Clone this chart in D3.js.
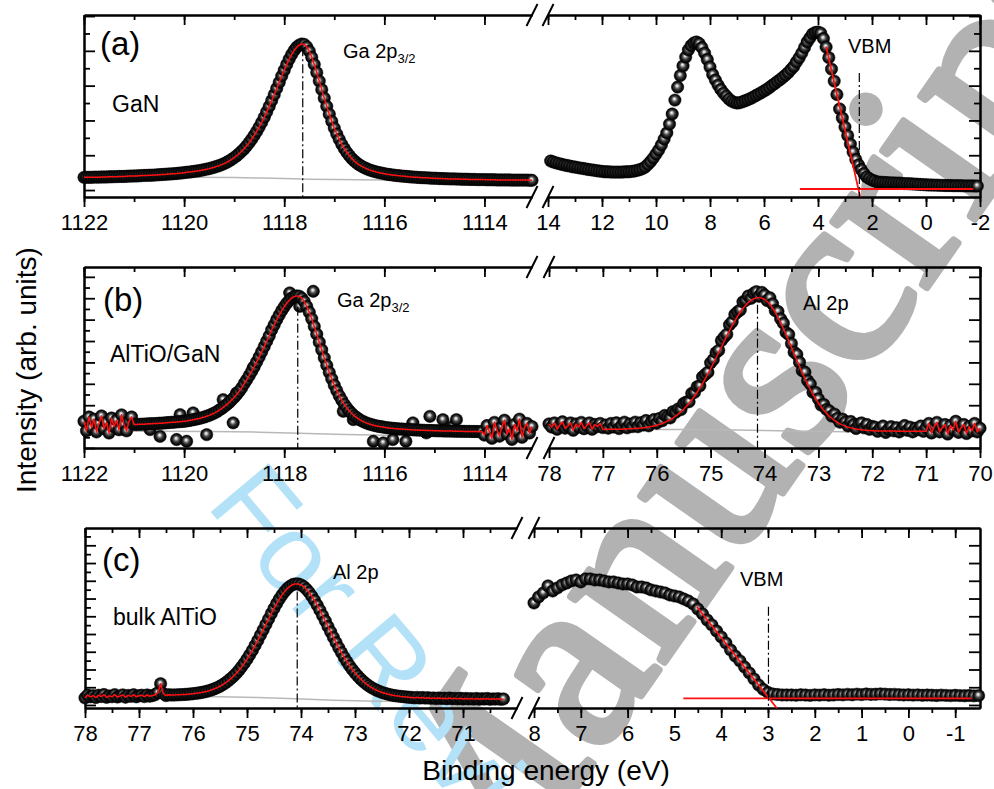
<!DOCTYPE html>
<html>
<head>
<meta charset="utf-8">
<script src="https://cdn.jsdelivr.net/npm/d3@7/dist/d3.min.js"></script>
<style>
  body { margin: 0; background: #fff; }
</style>
</head>
<body>
<div id="chart"></div>
<script>
const FONT = '"Liberation Sans", Arial, Helvetica, sans-serif';

// ---------- row (a): GaN ----------
// Ga 2p3/2, binding energy 1122 -> 1113.05 eV, step 0.05
const gaA_start = 1122, gaA_step = 0.05;
const gaA = [
  0.73,0.73,0.73,0.73,0.74,0.74,0.74,0.75,0.75,0.75,
  0.76,0.76,0.77,0.77,0.78,0.78,0.78,0.79,0.80,0.80,
  0.81,0.81,0.82,0.83,0.84,0.84,0.85,0.85,0.86,0.87,
  0.88,0.89,0.90,0.91,0.92,0.93,0.94,0.95,0.97,0.98,
  1.00,1.02,1.03,1.05,1.07,1.09,1.11,1.14,1.17,1.20,
  1.23,1.27,1.31,1.36,1.40,1.46,1.52,1.59,1.67,1.76,
  1.86,1.97,2.09,2.23,2.37,2.54,2.72,2.92,3.14,3.37,
  3.62,3.89,4.18,4.49,4.81,5.14,5.48,5.84,6.19,6.55,
  6.89,7.22,7.53,7.80,8.03,8.21,8.33,8.39,8.37,8.23,
  7.98,7.63,7.22,6.75,6.26,5.77,5.28,4.81,4.36,3.95,
  3.56,3.22,2.91,2.63,2.38,2.17,1.98,1.81,1.67,1.55,
  1.45,1.36,1.29,1.22,1.16,1.11,1.07,1.03,1.00,0.97,
  0.94,0.91,0.89,0.87,0.85,0.83,0.82,0.80,0.79,0.78,
  0.76,0.75,0.74,0.73,0.72,0.71,0.71,0.70,0.69,0.68,
  0.68,0.67,0.66,0.66,0.65,0.65,0.64,0.64,0.64,0.63,
  0.63,0.62,0.62,0.62,0.61,0.61,0.61,0.60,0.60,0.60,
  0.60,0.59,0.59,0.59,0.59,0.58,0.58,0.58,0.58,0.58,
  0.58,0.57,0.57,0.57,0.57,0.57,0.57,0.57,0.56,0.56
];
const gaA_bg = [[1122,0.75],[1120,0.74],[1119,0.72],[1118.5,0.69],[1118,0.66],[1117.5,0.62],[1117,0.60],[1116,0.58],[1113.05,0.57]];
const gaA_mark = [1117.63, 8.2];

// valence band, 13.9 -> -1.9 eV, step 0.1
const vbA_start = 13.9, vbA_step = 0.1;
const vbA = [
  1.67,1.61,1.56,1.52,1.48,1.44,1.41,1.38,1.34,1.32,
  1.29,1.26,1.24,1.21,1.18,1.16,1.14,1.11,1.09,1.07,
  1.05,1.05,1.04,1.03,1.03,1.03,1.03,1.04,1.05,1.05,
  1.07,1.09,1.13,1.17,1.23,1.32,1.47,1.64,1.84,2.07,
  2.30,2.59,2.93,3.28,3.79,4.37,5.17,5.92,6.58,7.13,
  7.64,8.05,8.30,8.45,8.51,8.42,8.19,7.87,7.50,7.07,
  6.64,6.32,6.03,5.78,5.57,5.40,5.23,5.11,5.04,5.00,
  5.02,5.07,5.13,5.19,5.26,5.34,5.43,5.51,5.60,5.69,
  5.78,5.89,6.01,6.12,6.24,6.35,6.48,6.61,6.75,6.93,
  7.10,7.36,7.59,7.87,8.19,8.51,8.74,8.97,9.05,9.08,
  9.02,8.71,8.22,7.61,6.95,6.26,5.49,4.66,4.14,3.62,
  3.13,2.64,2.18,1.75,1.44,1.18,0.95,0.75,0.66,0.57,
  0.52,0.46,0.45,0.44,0.43,0.42,0.41,0.41,0.40,0.40,
  0.39,0.37,0.37,0.36,0.35,0.34,0.33,0.32,0.31,0.30,
  0.29,0.29,0.28,0.28,0.27,0.27,0.26,0.26,0.26,0.25,
  0.25,0.25,0.25,0.24,0.24,0.24,0.24,0.23,0.23
];
const vbA_edge = [[3.70, 8.24], [2.44, -0.38]];
const vbA_base = [[4.67, 0.06], [-1.75, 0.06]];
const vbA_mark = [2.47, 6.72];

// ---------- row (b): AlTiO/GaN ----------
const gaB_start = 1122, gaB_step = 0.05;
const gaB = [
  2.5,1.6,2.9,1.9,2.7,1.5,2.3,3.0,1.8,2.4,
  1.4,2.8,2.0,2.6,1.7,3.1,2.2,1.6,2.5,2.9,
  2.20,2.20,2.21,2.22,2.23,2.25,2.26,2.27,2.28,2.29,
  2.31,2.32,2.34,2.36,2.38,2.40,2.41,2.44,2.46,2.47,
  2.50,2.53,2.57,2.61,2.66,2.71,2.76,2.82,2.89,2.97,
  3.05,3.15,3.26,3.38,3.54,3.69,3.86,4.05,4.25,4.49,
  4.73,5.00,5.29,5.61,6.01,6.37,6.76,7.17,7.60,8.05,
  8.51,8.99,9.48,9.98,10.47,11.05,11.52,11.99,12.43,12.84,
  13.20,13.53,13.79,14.02,14.15,14.22,14.19,14.01,13.69,13.24,
  12.69,12.07,11.36,10.64,9.89,9.17,8.42,7.73,7.07,6.46,
  5.87,5.36,4.88,4.47,4.08,3.76,3.46,3.22,3.00,2.83,
  2.66,2.54,2.42,2.33,2.24,2.18,2.11,2.06,2.01,1.98,
  1.93,1.90,1.87,1.85,1.82,1.80,1.78,1.77,1.75,1.74,
  1.72,1.71,1.69,1.68,1.67,1.66,1.65,1.64,1.63,1.63,
  1.62,1.61,1.61,1.60,1.59,1.59,1.58,1.58,1.57,1.57,
  1.56,1.56,1.55,1.55,1.55,1.54,1.54,1.54,1.53,1.53,
  1.2,2.1,1.5,0.9,2.4,1.7,1.1,2.0,2.6,1.3,
  1.8,0.8,2.2,1.6,2.7,1.0,1.9,2.3,1.4,2.0
];
const gaB_scatter = [
  [1120.08,3.12],[1119.82,3.28],[1120.68,1.72],[1120.15,0.79],[1119.95,0.63],[1119.55,1.25],
  [1119.22,4.52],[1119.02,2.35],[1118.95,5.15],[1118.62,7.49],[1117.42,14.65],[1117.89,14.5],
  [1117.69,13.24],[1116.82,3.43],[1116.62,2.65],[1116.22,0.63],[1116.02,0.48],[1115.83,0.79],
  [1115.43,2.35],[1115.09,2.96],[1114.83,2.65],[1114.63,2.03],[1114.56,2.65],[1120.48,1.09],
  [1115.16,1.41],[1115.57,0.63]
];
const gaB_bg = [[1122,1.6],[1119.5,1.55],[1118.5,1.48],[1117.7,1.38],[1117,1.28],[1116,1.2],[1113.05,1.18]];
const gaB_mark = [1117.73, 13.2];

// Al 2p, 78 -> 70 eV, step 0.05
const alB_start = 78, alB_step = 0.05;
const alB = [
  2.25,1.95,2.35,1.75,2.15,2.45,1.85,2.05,2.35,1.65,
  2.25,1.95,2.40,1.80,2.10,2.35,1.75,2.20,2.00,2.30,
  1.90,2.15,1.85,2.30,1.95,2.36,1.81,2.12,2.42,1.88,
  2.24,2.00,2.42,1.99,2.36,2.14,2.57,2.07,2.46,2.67,
  2.32,2.76,2.54,3.05,2.91,2.81,3.40,3.33,3.66,3.59,
  4.17,4.30,4.33,5.11,5.19,5.73,5.81,6.64,6.87,7.09,
  7.96,8.26,8.91,9.13,10.04,10.36,10.63,11.52,11.80,12.49,
  12.73,12.90,13.66,13.79,14.21,13.99,14.46,14.62,14.18,14.55,
  14.31,13.78,14.04,13.47,12.84,12.76,12.07,11.67,10.81,10.61,
  9.76,8.96,8.75,8.02,7.23,7.09,6.30,5.98,5.20,5.20,
  4.59,4.01,4.07,3.60,3.48,2.98,3.17,2.77,2.41,2.70,
  2.44,2.06,2.48,2.18,1.82,2.24,2.35,1.88,2.20,1.74,
  2.02,1.95,1.55,1.85,2.05,1.45,1.75,2.00,1.60,1.90,
  1.50,1.80,2.10,1.65,1.95,1.50,1.85,1.70,2.05,1.55,
  1.90,2.30,1.40,2.00,2.40,1.50,1.90,2.20,1.30,2.10,
  1.70,2.50,1.45,1.90,2.20,1.35,2.00,1.60,2.30,1.50,
  1.85
];
// smooth fit, 77.0 -> 71.0 eV, step 0.1
const alB_fit_start = 77, alB_fit_step = 0.1;
const alB_fit = [
  1.74,1.75,1.75,1.76,1.77,1.79,1.82,1.86,1.92,2.01,
  2.12,2.29,2.51,2.80,3.16,3.62,4.18,4.84,5.61,6.47,
  7.41,8.41,9.44,10.48,11.45,12.33,13.06,13.61,13.96,14.08,
  13.91,13.44,12.69,11.72,10.61,9.41,8.20,7.03,5.95,5.00,
  4.19,3.52,2.98,2.57,2.26,2.04,1.88,1.77,1.70,1.65,
  1.62,1.60,1.59,1.58,1.58,1.57,1.57,1.57,1.56,1.56,
  1.56
];
const alB_bg = [[78,1.74],[75.5,1.73],[74.5,1.68],[74,1.64],[73.5,1.58],[72.5,1.52],[70,1.50]];
const alB_mark = [74.13, 13.4];

// ---------- row (c): bulk AlTiO ----------
const alC_start = 78, alC_step = 0.05;
const alC = [
  0.80,1.12,0.92,1.05,0.84,1.10,0.95,1.18,0.86,1.03,
  0.93,1.17,0.90,1.01,1.14,0.88,1.08,0.97,1.16,0.92,
  1.04,1.10,0.94,1.13,0.99,1.07,1.16,1.38,2.40,1.30,
  1.06,1.15,1.12,1.13,1.14,1.16,1.17,1.19,1.21,1.24,
  1.27,1.31,1.35,1.40,1.46,1.53,1.62,1.71,1.83,1.96,
  2.11,2.29,2.48,2.71,2.97,3.24,3.55,3.91,4.29,4.71,
  5.16,5.65,6.16,6.72,7.28,7.88,8.47,9.09,9.69,10.30,
  10.88,11.44,11.95,12.41,12.81,13.15,13.40,13.58,13.65,13.64,
  13.53,13.34,13.05,12.70,12.26,11.78,11.25,10.68,10.08,9.47,
  8.84,8.23,7.62,7.02,6.44,5.90,5.37,4.88,4.42,4.00,
  3.62,3.27,2.95,2.67,2.41,2.18,1.98,1.81,1.66,1.53,
  1.41,1.32,1.23,1.16,1.09,1.04,1.00,0.96,0.93,0.90,
  0.87,0.85,0.80,0.86,0.78,0.84,0.77,0.82,0.74,0.80,
  0.72,0.79,0.73,0.77,0.70,0.78,0.71,0.75,0.69,0.76,
  0.67,0.74,0.68,0.72,0.66,0.74,0.65,0.70,0.67,0.73,
  0.64,0.69,0.66,0.71,0.63,0.68
];
const alC_bg = [[78,0.94],[75.5,0.92],[74.8,0.85],[74.1,0.70],[73.4,0.52],[72.6,0.42],[71.5,0.38],[70.25,0.37]];
const alC_mark = [74.07, 12.8];

// valence band, 8.0 -> -1.5 eV, step 0.1
const vbC_start = 8, vbC_step = 0.1;
const vbC = [
  11.50,12.18,12.63,13.42,12.85,13.19,13.53,13.75,13.98,14.09,
  13.87,14.21,14.21,14.09,14.09,13.98,13.87,13.87,13.75,13.64,
  13.64,13.53,13.30,13.30,13.19,12.97,12.85,12.74,12.63,12.40,
  12.29,12.18,11.95,11.72,11.39,10.82,10.26,9.58,9.02,8.34,
  7.67,6.99,6.20,5.52,4.96,4.28,3.61,2.93,2.25,1.75,
  1.41,1.24,1.18,1.13,1.13,1.13,1.10,1.15,1.12,1.08,
  1.14,1.11,1.16,1.10,1.13,1.18,1.14,1.20,1.15,1.22,
  1.17,1.24,1.19,1.21,1.25,1.22,1.18,1.20,1.16,1.13,
  1.15,1.11,1.14,1.09,1.12,1.10,1.07,1.11,1.08,1.05,
  1.09,1.06,1.04,1.07,1.03,1.05
];
const vbC_edge = [[4.52, 11.08], [2.81, -0.37]];
const vbC_base = [[4.81, 0.75], [-1.35, 0.75]];
const vbC_mark = [2.99, 11.08];

// tick labels
const gaTicks = [1122, 1120, 1118, 1116, 1114];
const vbATicks = [14, 12, 10, 8, 6, 4, 2, 0, -2];
const alBTicks = [78, 77, 76, 75, 74, 73, 72, 71, 70];
const alCTicks = [78, 77, 76, 75, 74, 73, 72, 71];
const vbCTicks = [8, 7, 6, 5, 4, 3, 2, 1, 0, -1];

// ---------- layout ----------
const WIDTH = 994, HEIGHT = 789;
const rowY = {
  a: d3.scaleLinear().domain([-0.4, 10.06]).range([197, 15]),
  b: d3.scaleLinear().domain([0, 16.92]).range([448, 267]),
  c: d3.scaleLinear().domain([-0.34, 19.95]).range([708, 528])
};
const rightTickStep = {a: 1, b: 2, c: 2};

const panels = [
  {row: 'a', side: 'left',  x0: 84,  x1: 532, domain: [1122, 1113.05], major: gaTicks,  minor: d3.range(1122, 1113.5, -1)},
  {row: 'a', side: 'right', x0: 548, x1: 980, domain: [14, -2],        major: vbATicks, minor: d3.range(14, -2.5, -1)},
  {row: 'b', side: 'left',  x0: 84,  x1: 532, domain: [1122, 1113.05], major: gaTicks,  minor: d3.range(1122, 1113.5, -1)},
  {row: 'b', side: 'right', x0: 549, x1: 980, domain: [78, 70],        major: alBTicks, minor: d3.range(78, 69.75, -0.5)},
  {row: 'c', side: 'left',  x0: 85,  x1: 517, domain: [78, 70],        major: alCTicks, minor: d3.range(78, 70.25, -0.5)},
  {row: 'c', side: 'right', x0: 534, x1: 980, domain: [8, -1.53],      major: vbCTicks, minor: d3.range(8, -1.25, -0.5)}
];

const svg = d3.select('#chart').append('svg')
  .attr('width', WIDTH)
  .attr('height', HEIGHT)
  .style('font-family', FONT);

// sphere marker
const defs = svg.append('defs');
const grad = defs.append('radialGradient').attr('id', 'ball')
  .attr('cx', '50%').attr('cy', '50%').attr('r', '50%').attr('fx', '45%').attr('fy', '38%');
[[0, '#ffffff'], [0.18, '#c8c8c8'], [0.45, '#4a4a4a'], [0.75, '#111'], [1, '#000']].forEach(s => {
  grad.append('stop').attr('offset', s[0]).attr('stop-color', s[1]);
});

// watermarks (behind everything)
svg.append('text')
  .attr('transform', 'translate(470,940) rotate(-55)')
  .attr('font-family', '"Liberation Serif", "Times New Roman", serif')
  .attr('font-size', 250)
  .attr('fill', '#b2b2b2')
  .attr('stroke', '#b2b2b2')
  .attr('stroke-width', 7)
  .attr('stroke-linejoin', 'round')
  .text('Manuscript');
svg.append('text')
  .attr('transform', 'translate(205,505) rotate(50)')
  .attr('font-size', 110)
  .attr('fill', '#b3e2f8')
  .text('For Review Only');

const pts = (start, step, vals) => vals.map((v, i) => [start - i * step, v]);

function styleAxis(g, withText) {
  g.attr('font-size', 22).attr('font-family', FONT);
  g.select('.domain').attr('stroke-width', 2);
  g.selectAll('.tick line').attr('stroke-width', 1.8);
  if (!withText) g.selectAll('.tick text').remove();
}

function drawFrame(p) {
  const x = d3.scaleLinear().domain(p.domain).range([p.x0, p.x1]);
  const y = rowY[p.row];
  const [yb, yt] = y.range();
  const g = svg.append('g');

  g.append('g').attr('transform', `translate(0,${yb})`)
    .call(d3.axisBottom(x).tickValues(p.minor).tickSizeInner(5).tickSizeOuter(0).tickFormat(''))
    .call(a => styleAxis(a, false));
  g.append('g').attr('transform', `translate(0,${yb})`)
    .call(d3.axisBottom(x).tickValues(p.major).tickSizeInner(10).tickSizeOuter(0).tickPadding(7).tickFormat(d => String(d)))
    .call(a => styleAxis(a, true));
  g.append('g').attr('transform', `translate(0,${yt})`)
    .call(d3.axisTop(x).tickValues(p.minor).tickSizeInner(-5).tickSizeOuter(0).tickFormat(''))
    .call(a => styleAxis(a, false));
  g.append('g').attr('transform', `translate(0,${yt})`)
    .call(d3.axisTop(x).tickValues(p.major).tickSizeInner(-10).tickSizeOuter(0).tickFormat(''))
    .call(a => styleAxis(a, false));

  const [lo, hi] = y.domain();
  const step = p.side === 'left' ? 1 : rightTickStep[p.row];
  const vals = d3.range(Math.ceil(lo), hi, 1).filter(v => v % step === 0);
  const maj = vals.filter(v => v % 2 === 0);
  const mnr = vals.filter(v => v % 2 !== 0);
  const axisFn = p.side === 'left' ? d3.axisLeft : d3.axisRight;
  const xPos = p.side === 'left' ? p.x0 : p.x1;
  g.append('g').attr('transform', `translate(${xPos},0)`)
    .call(axisFn(y).tickValues(mnr).tickSizeInner(-6).tickSizeOuter(0).tickFormat(''))
    .call(a => styleAxis(a, false));
  g.append('g').attr('transform', `translate(${xPos},0)`)
    .call(axisFn(y).tickValues(maj).tickSizeInner(-11).tickSizeOuter(0).tickFormat(''))
    .call(a => styleAxis(a, false));

  return {x, y, g};
}

const frames = panels.map(drawFrame);

// axis breaks
['a', 'b', 'c'].forEach(r => {
  const ps = panels.filter(p => p.row === r);
  const [yb, yt] = rowY[r].range();
  [ps[0].x1, ps[1].x0].forEach(bx => {
    [yb, yt].forEach(by => {
      svg.append('line')
        .attr('x1', bx - 5.5).attr('y1', by + 11)
        .attr('x2', bx + 5.5).attr('y2', by - 11)
        .attr('stroke', '#000').attr('stroke-width', 2);
    });
  });
});

function lineOf(f, data, color, width) {
  f.g.append('path').datum(data)
    .attr('fill', 'none').attr('stroke', color).attr('stroke-width', width)
    .attr('stroke-linejoin', 'round')
    .attr('d', d3.line().x(d => f.x(d[0])).y(d => f.y(d[1])));
}
function balls(f, data, r) {
  f.g.append('g').selectAll('circle').data(data).join('circle')
    .attr('cx', d => f.x(d[0])).attr('cy', d => f.y(d[1]))
    .attr('r', r || 6.2)
    .attr('fill', 'url(#ball)')
    .attr('stroke', '#000').attr('stroke-width', 0.5);
}
function dashMark(f, m) {
  f.g.append('line')
    .attr('x1', f.x(m[0])).attr('x2', f.x(m[0]))
    .attr('y1', f.y(m[1])).attr('y2', f.y.range()[0])
    .attr('stroke', '#000').attr('stroke-width', 1.2)
    .attr('stroke-dasharray', '9,3,2,3');
}

const RED = '#ff1010', GREY = '#b8b8b8';

// (a) left
{
  const f = frames[0], d = pts(gaA_start, gaA_step, gaA);
  lineOf(f, gaA_bg, GREY, 1.5);
  balls(f, d);
  lineOf(f, d, RED, 1.5);
  dashMark(f, gaA_mark);
}
// (a) right
{
  const f = frames[1], d = pts(vbA_start, vbA_step, vbA);
  balls(f, d);
  lineOf(f, vbA_edge, RED, 1.8);
  lineOf(f, vbA_base, RED, 1.8);
  dashMark(f, vbA_mark);
}
// (b) left
{
  const f = frames[2], d = pts(gaB_start, gaB_step, gaB);
  lineOf(f, gaB_bg, GREY, 1.5);
  balls(f, gaB_scatter);
  balls(f, d);
  lineOf(f, d, RED, 1.5);
  dashMark(f, gaB_mark);
}
// (b) right
{
  const f = frames[3], d = pts(alB_start, alB_step, alB);
  const fit = pts(alB_fit_start, alB_fit_step, alB_fit);
  lineOf(f, alB_bg, GREY, 1.5);
  balls(f, d);
  const red = d.filter(p => p[0] > 77.001).concat(fit, d.filter(p => p[0] < 70.999));
  lineOf(f, red, RED, 1.5);
  dashMark(f, alB_mark);
}
// (c) left
{
  const f = frames[4], d = pts(alC_start, alC_step, alC);
  lineOf(f, alC_bg, GREY, 1.5);
  balls(f, d);
  lineOf(f, d, RED, 1.5);
  dashMark(f, alC_mark);
}
// (c) right
{
  const f = frames[5], d = pts(vbC_start, vbC_step, vbC);
  balls(f, d);
  lineOf(f, vbC_edge, RED, 1.8);
  lineOf(f, vbC_base, RED, 1.8);
  dashMark(f, vbC_mark);
}

// annotations
function label(x, y, txt, size) {
  return svg.append('text').attr('x', x).attr('y', y).attr('font-size', size).attr('fill', '#000').text(txt);
}
function subLabel(x, y, main, sub) {
  const t = svg.append('text').attr('x', x).attr('y', y).attr('font-size', 20).attr('fill', '#000');
  t.append('tspan').text(main);
  t.append('tspan').attr('dy', 5).attr('font-size', 13).text(sub);
}
label(100, 55, '(a)', 33);
label(112, 112, 'GaN', 23);
subLabel(343, 58, 'Ga 2p', '3/2');
label(848, 53, 'VBM', 20);

label(103, 311, '(b)', 33);
label(110, 362, 'AlTiO/GaN', 23);
subLabel(337, 307, 'Ga 2p', '3/2');
label(803, 310, 'Al 2p', 20);

label(102, 571, '(c)', 33);
label(113, 625, 'bulk AlTiO', 23);
label(333, 579, 'Al 2p', 20);
label(740, 586, 'VBM', 20);

svg.append('text')
  .attr('x', 546).attr('y', 780)
  .attr('text-anchor', 'middle').attr('font-size', 28)
  .text('Binding energy (eV)');
svg.append('text')
  .attr('transform', 'translate(36,370) rotate(-90)')
  .attr('text-anchor', 'middle').attr('font-size', 28)
  .text('Intensity (arb. units)');
</script>
</body>
</html>
